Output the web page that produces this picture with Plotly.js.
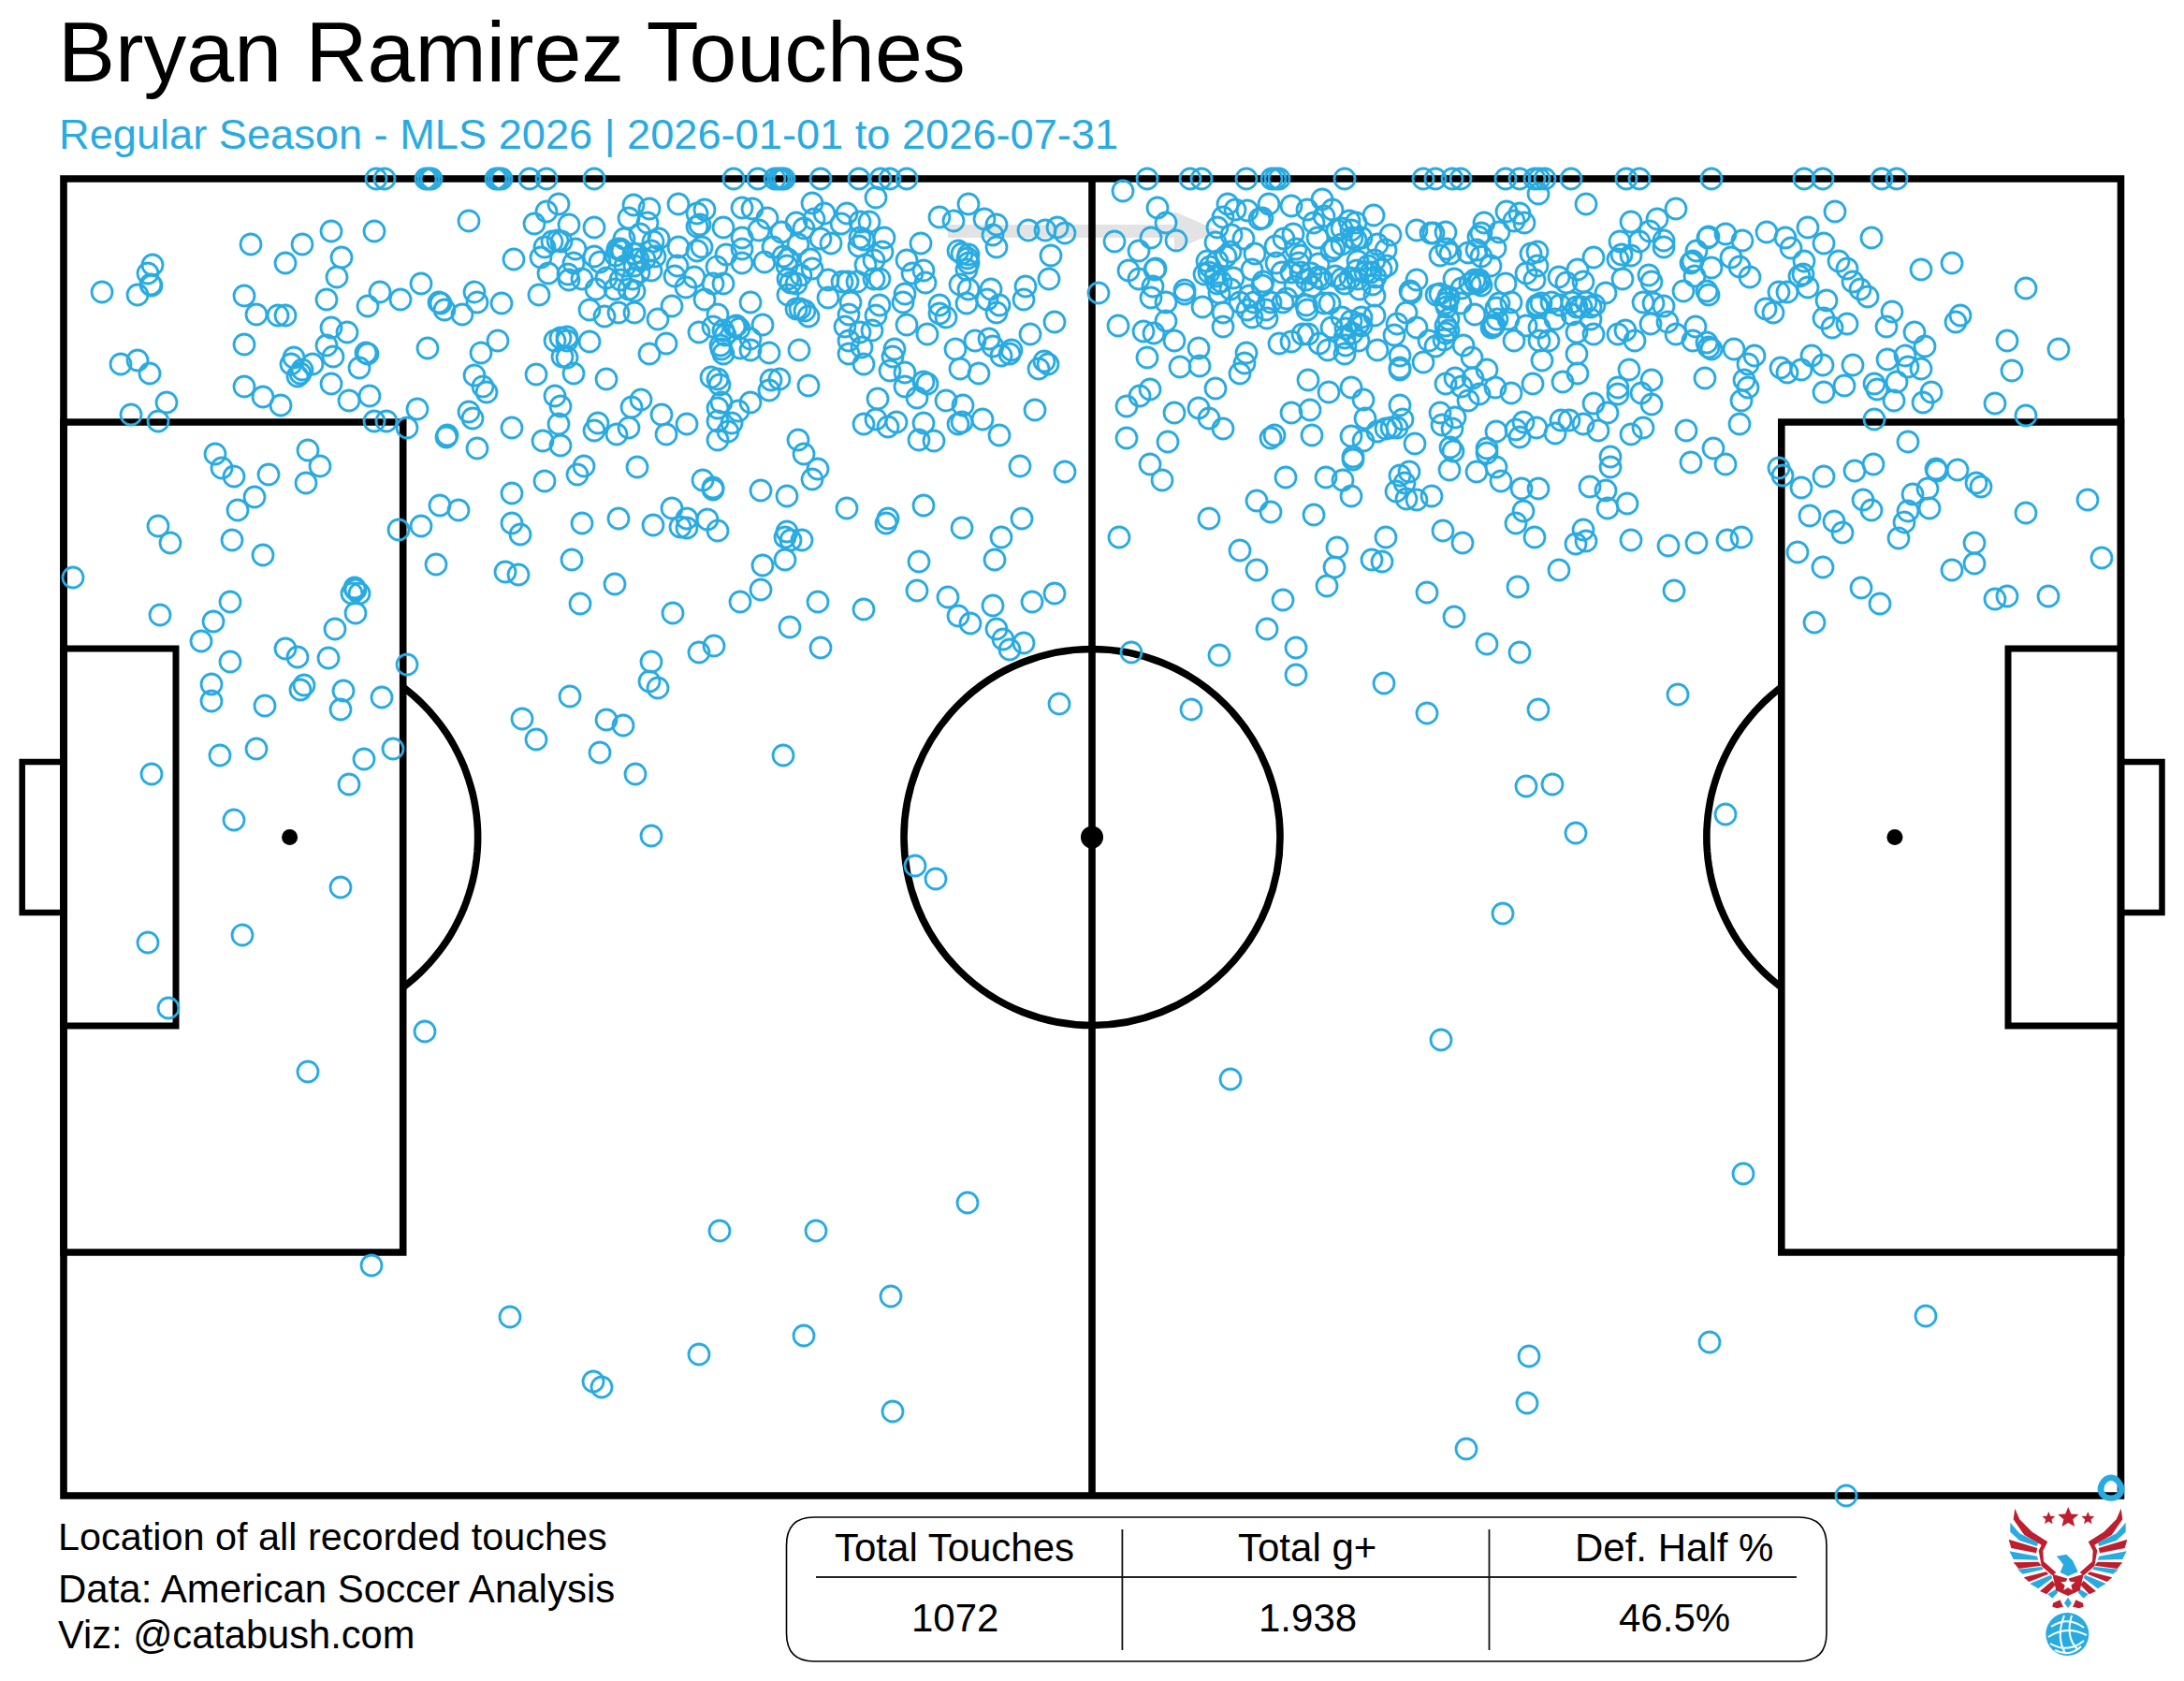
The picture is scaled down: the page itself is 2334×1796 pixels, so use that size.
<!DOCTYPE html>
<html><head><meta charset="utf-8">
<script src="https://cdn.plot.ly/plotly-3.0.1.min.js"></script>
<style>html,body{margin:0;padding:0;background:#fff}</style></head>
<body><div id="chart" style="width:2334px;height:1796px"></div>
<script>
const chartTitle = "Bryan Ramirez Touches";
const chartSubtitle = "Regular Season - MLS 2026 | 2026-01-01 to 2026-07-31";
const captionLines = ["Location of all recorded touches","Data: American Soccer Analysis","Viz: @catabush.com"];
const tableHeaders = ["Total Touches","Total g+","Def. Half %"];
const tableValues = ["1072","1.938","46.5%"];

// touches that sit on the touchline
const touchlineX = [402,411,455,458,461,530,533,536,566,584,635,784,810,828,832,835,838,877,918,941,951,969,1226,1272,1284,1332,1359,1363,1367,1437,1521,1534,1552,1561,1609,1624,1640,1645,1651,1679,1738,1752,1829,1928,1948,2011,2027];

const touchesLeftWing = [[109,311],[147,314],[163,282],[158,291],[161,303],[162,304],[268,260],[323,260],[305,280],[354,246],[365,274],[360,295],[400,246],[501,235],[261,315],[274,335],[297,336],[305,336],[349,319],[406,311],[393,326],[428,319],[450,302],[354,349],[371,354],[349,368],[356,380],[261,367],[391,376],[393,377],[384,392],[457,371],[314,381],[311,388],[334,388],[323,394],[321,398],[318,401],[129,388],[147,384],[160,398],[261,412],[281,423],[300,432],[354,409],[373,427],[395,422],[178,429],[140,442],[169,449],[400,449],[413,449],[446,436],[435,456],[478,464],[477,466],[510,478],[469,322],[471,323],[475,330],[494,335],[507,311],[510,322],[536,323],[576,314],[514,376],[532,363],[507,400],[516,412],[520,418],[501,439],[505,446],[547,456],[573,399],[580,470],[582,513],[547,526],[230,484],[237,499],[250,508],[287,506],[329,480],[342,497],[327,515],[272,530],[254,544],[470,539],[490,544],[450,561],[426,565],[169,561],[547,558],[556,570],[584,225],[597,217],[571,238],[549,276],[582,263],[578,274],[586,291],[590,257],[596,256],[593,363],[599,360],[593,422],[599,433],[597,452],[599,475],[601,380]];

const touchesLeftCentre = [[936,210],[725,217],[677,218],[694,222],[745,227],[753,223],[793,221],[804,222],[820,232],[868,216],[881,227],[870,233],[905,227],[899,238],[919,236],[929,236],[851,237],[859,243],[835,247],[811,245],[773,242],[745,241],[748,239],[635,242],[608,239],[672,232],[692,237],[684,249],[667,254],[704,254],[725,263],[793,253],[793,265],[793,280],[776,271],[750,263],[745,267],[766,284],[724,283],[721,294],[742,295],[733,306],[762,302],[773,302],[753,319],[802,322],[767,335],[762,348],[747,354],[785,348],[787,347],[815,346],[718,326],[703,340],[678,333],[661,333],[646,337],[630,330],[712,366],[694,377],[630,364],[606,359],[606,363],[606,381],[613,398],[648,404],[637,308],[657,308],[663,298],[676,297],[672,308],[678,310],[648,296],[622,297],[608,298],[607,292],[613,280],[615,265],[635,273],[641,279],[600,257],[665,267],[663,265],[677,270],[682,276],[689,276],[696,288],[696,267],[698,257],[817,279],[826,263],[837,273],[842,276],[853,260],[866,276],[868,286],[877,254],[888,259],[919,253],[923,255],[918,262],[945,253],[943,268],[934,277],[925,282],[885,298],[900,300],[906,300],[916,300],[934,297],[940,297],[842,297],[845,301],[851,302],[842,314],[856,293],[885,317],[909,322],[907,335],[903,348],[940,325],[936,336],[932,352],[919,354],[907,363],[921,370],[907,377],[923,388],[851,329],[855,329],[860,331],[864,337],[969,277],[975,291],[987,288],[989,301],[984,259],[967,313],[965,322],[969,346],[991,356],[956,372],[954,380],[951,395],[967,397],[967,412],[987,407],[991,409],[980,424],[938,425],[936,447],[923,452],[949,455],[958,450],[987,451],[982,469],[998,470],[1011,427],[1029,432],[1024,452],[1028,450],[1050,447],[1068,464],[1106,437],[1004,231],[1019,235],[1035,217],[1052,233],[1065,239],[1061,250],[1065,263],[1099,245],[1117,245],[1130,242],[1138,248],[1123,272],[1121,297],[1096,305],[1094,319],[1127,343],[1101,356],[1024,267],[1028,270],[1035,271],[1035,280],[1033,287],[1026,303],[1035,308],[1033,323],[1059,308],[1055,319],[1068,325],[1065,333],[1004,325],[1004,334],[1011,338],[1021,372],[1042,363],[1057,361],[1061,369],[1070,379],[1079,377],[1081,373],[1026,393],[1046,398],[1110,393],[1116,385],[1120,388],[1090,497],[1138,503],[1092,553],[1028,563],[1070,573],[987,539],[905,542],[949,553],[947,558],[841,529],[813,523],[868,511],[874,500],[859,484],[853,469],[864,411],[854,373],[822,376],[802,373],[802,361],[791,371],[773,377],[771,372],[760,402],[767,404],[769,410],[833,404],[824,405],[822,416],[802,429],[789,438],[771,429],[767,435],[767,449],[782,451],[778,460],[767,469],[707,442],[734,452],[712,463],[685,426],[675,434],[672,456],[659,463],[639,451],[635,459],[624,497],[617,506],[681,498],[751,512],[762,520],[762,522],[622,558],[661,553],[698,560],[718,542],[734,553],[727,562],[734,563],[756,554],[767,566],[841,567],[839,573],[845,576],[857,576]];

const touchesRightCentre = [[1174,312],[1200,203],[1191,257],[1195,347],[1644,206],[1695,217],[1237,221],[1246,237],[1230,253],[1217,267],[1257,256],[1312,217],[1320,223],[1333,224],[1307,231],[1301,242],[1299,258],[1316,250],[1329,254],[1341,270],[1346,233],[1349,232],[1356,217],[1380,219],[1397,223],[1413,212],[1415,230],[1424,223],[1404,237],[1382,249],[1372,254],[1363,262],[1408,253],[1434,243],[1442,235],[1449,237],[1468,229],[1429,245],[1426,264],[1434,260],[1445,253],[1449,255],[1486,250],[1472,260],[1481,266],[1385,265],[1390,272],[1409,281],[1364,280],[1338,287],[1315,268],[1310,273],[1301,278],[1290,278],[1235,286],[1234,287],[1206,288],[1217,297],[1232,305],[1230,317],[1246,322],[1266,309],[1266,313],[1285,327],[1246,342],[1222,353],[1233,355],[1255,363],[1226,381],[1281,371],[1261,391],[1282,390],[1287,292],[1292,290],[1301,302],[1303,312],[1315,308],[1307,333],[1307,348],[1332,376],[1330,387],[1325,398],[1299,414],[1335,315],[1350,300],[1370,290],[1390,290],[1396,298],[1412,297],[1384,305],[1402,305],[1427,294],[1434,297],[1451,278],[1469,277],[1482,283],[1451,297],[1465,290],[1453,308],[1467,303],[1469,315],[1333,330],[1338,338],[1354,339],[1358,322],[1371,322],[1396,325],[1397,330],[1415,323],[1421,323],[1469,336],[1455,338],[1444,342],[1434,338],[1438,350],[1423,349],[1367,366],[1380,364],[1392,356],[1398,356],[1410,366],[1419,373],[1438,368],[1437,377],[1452,363],[1472,373],[1496,379],[1496,392],[1496,394],[1521,386],[1398,405],[1420,418],[1444,413],[1457,426],[1459,446],[1496,432],[1499,447],[1472,460],[1481,457],[1487,456],[1493,456],[1444,465],[1457,470],[1446,487],[1446,490],[1512,473],[1380,440],[1400,437],[1402,464],[1358,467],[1362,464],[1281,435],[1292,446],[1307,457],[1255,440],[1229,415],[1218,422],[1204,433],[1204,467],[1248,471],[1229,495],[1242,512],[1374,509],[1417,509],[1435,512],[1444,529],[1343,534],[1358,546],[1404,549],[1292,553],[1196,573],[1496,507],[1506,503],[1501,515],[1492,524],[1503,532],[1514,533],[1530,529],[1514,245],[1529,248],[1532,248],[1545,247],[1539,272],[1546,265],[1550,270],[1569,269],[1578,266],[1580,252],[1583,248],[1586,237],[1602,247],[1598,264],[1583,273],[1593,283],[1610,225],[1624,227],[1618,235],[1629,237],[1636,270],[1643,268],[1643,283],[1631,291],[1640,298],[1666,295],[1674,301],[1686,287],[1692,300],[1703,274],[1716,312],[1734,297],[1731,257],[1743,236],[1752,257],[1743,272],[1733,271],[1729,276],[1762,293],[1765,300],[1756,322],[1767,323],[1764,345],[1729,356],[1737,352],[1747,363],[1685,377],[1686,398],[1670,407],[1638,409],[1615,419],[1598,413],[1609,302],[1554,297],[1578,302],[1571,302],[1581,300],[1562,307],[1535,314],[1539,313],[1545,323],[1507,310],[1508,312],[1514,298],[1503,333],[1493,345],[1490,357],[1514,349],[1527,363],[1534,369],[1545,347],[1545,355],[1543,362],[1561,323],[1576,335],[1599,328],[1602,323],[1615,322],[1596,348],[1594,349],[1618,363],[1631,347],[1643,325],[1643,327],[1667,325],[1662,340],[1685,327],[1690,327],[1704,325],[1700,340],[1685,354],[1703,356],[1645,349],[1645,363],[1655,363],[1648,384],[1564,368],[1573,381],[1589,394],[1555,403],[1545,409],[1562,412],[1574,403],[1581,420],[1569,427],[1539,440],[1555,445],[1541,453],[1552,457],[1550,477],[1553,481],[1549,501],[1578,503],[1599,460],[1589,478],[1589,483],[1599,498],[1604,513],[1626,521],[1644,521],[1620,458],[1628,450],[1624,466],[1642,456],[1662,462],[1668,448],[1677,448],[1692,452],[1708,459],[1703,430],[1718,440],[1729,413],[1729,420],[1741,394],[1754,419],[1765,405],[1765,431],[1756,456],[1743,463],[1721,487],[1721,498],[1699,519],[1716,523],[1739,537],[1718,542],[1628,545],[1620,558],[1542,566],[1692,565],[1763,246]];

const touchesDenseCluster = [[1444,245],[1455,253],[1423,267],[1388,280],[1380,290],[1437,302],[1443,296],[1459,290],[1476,287],[1462,283],[1450,288],[1470,295],[1401,291],[1409,295],[1318,296],[1325,322],[1340,322],[1353,330],[1349,304],[1375,318],[1293,284],[1299,294],[1305,300],[1581,298],[1583,304],[1576,298],[1548,316],[1546,327],[1548,318],[1600,340],[1597,346],[1612,340],[1680,322],[1695,322],[1700,327],[1680,335],[1658,322],[1647,323],[1455,347],[1445,355],[1452,345],[1437,360],[1548,352],[1548,340],[678,283],[683,290],[668,283],[660,265],[658,272],[700,273],[841,283],[1034,275],[775,357],[770,368],[790,350],[773,352]];

const touchesRightWing = [[1791,222],[1771,233],[1961,225],[1932,242],[1888,247],[1908,253],[1914,264],[1949,259],[2000,253],[1826,252],[1825,253],[1844,249],[1862,256],[1778,256],[1778,263],[1813,267],[1807,280],[1809,278],[1850,274],[1859,284],[1870,295],[1829,285],[1811,294],[1928,278],[1965,278],[1974,286],[1980,300],[1988,308],[1996,316],[2053,287],[2086,280],[2165,307],[1927,292],[1923,294],[1932,306],[1901,311],[1910,311],[1887,329],[1895,333],[1952,320],[1949,339],[1958,349],[1974,345],[2022,332],[2016,348],[2046,354],[2057,369],[2095,336],[2090,343],[2145,363],[2200,372],[2150,395],[2132,430],[2165,443],[2003,447],[2036,379],[2017,383],[2039,391],[2053,393],[1980,389],[1948,389],[1936,379],[1925,394],[1903,392],[1910,397],[1875,379],[1868,388],[1853,372],[1829,372],[1824,365],[1826,370],[1809,363],[1812,348],[1791,356],[1782,343],[1778,326],[1799,310],[1824,310],[1826,314],[1971,411],[1949,418],[2003,409],[2006,415],[2027,407],[2024,427],[2064,418],[2055,429],[1864,405],[1868,413],[1861,427],[1822,403],[1859,452],[1802,459],[1831,478],[1807,493],[1844,495],[1901,499],[1905,507],[1925,520],[1949,508],[1982,502],[2002,495],[2039,471],[2069,500],[2070,502],[2092,501],[2112,515],[2117,519],[2060,521],[2044,527],[2062,542],[1991,533],[2000,544],[1934,550],[1960,556],[2039,545],[2035,557],[2165,547],[2231,533],[1969,568]];

const touchesMidBand = [[182,579],[248,576],[281,592],[78,616],[466,602],[540,610],[554,613],[171,656],[246,642],[228,663],[215,684],[246,706],[226,730],[226,748],[283,753],[235,806],[274,799],[162,826],[250,875],[364,947],[305,692],[318,701],[351,702],[358,671],[380,654],[379,627],[376,633],[380,629],[384,633],[435,709],[321,736],[325,731],[367,737],[364,757],[408,744],[420,799],[389,810],[373,837],[558,767],[573,789],[611,597],[657,623],[620,644],[719,654],[815,603],[839,597],[813,629],[791,642],[874,642],[923,650],[844,669],[877,691],[763,689],[747,696],[696,706],[694,727],[703,734],[609,743],[648,768],[666,774],[641,803],[679,826],[837,806],[696,892],[982,599],[1063,597],[980,630],[1013,637],[1024,657],[1037,665],[1061,646],[1103,642],[1127,633],[1065,671],[1072,682],[1094,686],[1079,693],[1132,751],[978,924],[1000,938],[1325,587],[1343,608],[1429,584],[1426,605],[1418,625],[1466,597],[1477,599],[1481,573],[1563,579],[1371,640],[1354,671],[1385,691],[1385,720],[1303,699],[1209,696],[1273,757],[1525,632],[1554,658],[1589,687],[1624,696],[1622,626],[1666,608],[1684,580],[1695,577],[1640,573],[1743,576],[1479,729],[1525,761],[1644,757],[1631,839],[1659,837],[1684,889],[1783,582],[1813,579],[1846,576],[1861,573],[1789,630],[1793,741],[1844,869],[1921,589],[1948,605],[2029,574],[1989,627],[2009,644],[1939,664],[2110,579],[2110,601],[2086,608],[2132,639],[2145,636],[2189,636],[2246,595]];

const touchesDeepField = [[158,1006],[259,998],[180,1076],[454,1101],[329,1144],[397,1351],[545,1406],[634,1475],[643,1481],[747,1446],[769,1314],[872,1314],[1034,1284],[952,1384],[859,1426],[954,1507],[1315,1152],[1540,1110],[1606,975],[1863,1253],[1827,1433],[2058,1405],[1634,1448],[1632,1498],[1567,1547],[1973,1597],[2255,1588],[2256,1590],[2257,1589],[2256,1587],[2254,1590],[2258,1590]];

const allTouches = [...touchlineX.map(x=>[x,190]),...touchesLeftWing,...touchesLeftCentre,...touchesRightCentre,...touchesDenseCluster,...touchesRightWing,...touchesMidBand,...touchesDeepField];
const BLUE = "#29abe2", RED = "#be1e2d";

// pitch geometry (chart units)
const L=68,R=2266.5,T=190,B=1597,CX=1167,CY=893.5;
const line = {color:"#000",width:7.6};
function rect(x0,y0,x1,y1,w){return {type:"rect",x0,y0,x1,y1,xref:"x",yref:"y",line:{color:"#000",width:w||7.6},fillcolor:"rgba(0,0,0,0)",layer:"below"};}
function disc(cx,cy,r,fill,ln){return {type:"circle",x0:cx-r,x1:cx+r,y0:cy-r,y1:cy+r,xref:"x",yref:"y",fillcolor:fill,line:ln||{width:0},layer:"below"};}
function path(d,fill,ln,layer){return {type:"path",path:d,xref:"x",yref:"y",fillcolor:fill||"rgba(0,0,0,0)",line:ln||{width:0},layer:layer||"below"};}
function arc(cx,cy,r,a0,a1){let s="";for(let i=0;i<=48;i++){const a=(a0+(a1-a0)*i/48)*Math.PI/180;s+=(i?"L":"M")+(cx+r*Math.cos(a)).toFixed(1)+","+(cy+r*Math.sin(a)).toFixed(1);}return s;}
const arcAng = Math.acos((430.7-309.6)/201)*180/Math.PI;

const shapes = [
 path("M1013,239 L1255,239 L1255,225 L1303,246 L1255,266 L1255,253 L1013,253 Z","#e3e3e3"),
 rect(23.7,813,L,974,6.5), rect(R,813,2310.5,974,6.5),
 rect(L,450,430.7,1337), rect(1903.8,450,R,1337),
 rect(L,692,188,1095,7), rect(2146,692,R,1095,7),
 rect(L,T,R,B),
 {type:"line",x0:CX,x1:CX,y0:T,y1:B,xref:"x",yref:"y",line,layer:"below"},
 {type:"circle",x0:CX-201,x1:CX+201,y0:CY-201,y1:CY+201,xref:"x",yref:"y",line,layer:"below"},
 path(arc(309.6,CY,201,-arcAng,arcAng),null,line),
 path(arc(2024.9,CY,201,180-arcAng,180+arcAng),null,line),
 disc(309.6,CY,8.5,"#000"), disc(2024.9,CY,8.5,"#000"), disc(CX,CY,12,"#000"),
 // stat table frame
 path("M870,1620 L1922,1620 Q1952,1620 1952,1650 L1952,1744 Q1952,1774 1922,1774 L870,1774 Q840.5,1774 840.5,1744 L840.5,1650 Q840.5,1620 870,1620 Z",null,{color:"#000",width:1.6}),
 {type:"line",x0:872,x1:1920,y0:1684,y1:1684,xref:"x",yref:"y",line:{color:"#222",width:2},layer:"below"},
 {type:"line",x0:1199.4,x1:1199.4,y0:1633,y1:1762,xref:"x",yref:"y",line:{color:"#111",width:1.8},layer:"below"},
 {type:"line",x0:1591.5,x1:1591.5,y0:1633,y1:1762,xref:"x",yref:"y",line:{color:"#111",width:1.8},layer:"below"}
];

// logo, in crop units (u,v): X=1900+u/3, Y=1540+v/3, mirrored about u=930
function lp(pts,fill,mirror){const d=pts.map((p,i)=>(i?"L":"M")+(1900+(mirror?1860-p[0]:p[0])/3).toFixed(1)+","+(1539+p[1]/3).toFixed(1)).join(" ")+" Z";shapes.push(path(d,fill,null,"above"));}
const wings=[
 [[[760,215],[775,250],[815,290],[865,322],[850,350],[852,385],[892,420],[880,430],[845,400],[836,350],[845,332],[790,300],[755,250]],RED],
 [[[745,260],[775,295],[835,325],[830,336],[775,318],[745,290]],BLUE],
 [[[740,314],[832,342],[828,358],[748,342]],RED],
 [[[742,352],[830,368],[835,380],[755,378]],BLUE],
 [[[755,388],[835,386],[845,398],[772,408]],RED],
 [[[768,410],[845,402],[852,410],[785,425]],BLUE],
 [[[788,436],[860,418],[868,425],[805,450]],RED],
 [[[808,456],[875,428],[880,438],[835,472]],BLUE],
 [[[840,480],[880,446],[890,460],[862,490]],RED],
 [[[865,490],[895,472],[897,485],[880,503]],BLUE],
 [[[882,518],[905,508],[910,520],[915,530],[895,535],[880,530]],RED]
];
wings.forEach(w=>{lp(w[0],w[1],false);lp(w[0],w[1],true);});
lp([[880,425],[930,440],[980,425],[968,478],[930,495],[892,478]],RED,false);
lp([[893,368],[925,362],[945,382],[962,418],[930,432],[905,420],[915,395],[905,382]],BLUE,false);
lp([[930,500],[942,518],[930,534],[918,518]],BLUE,false);
function star(cx,cy,r,fill){const p=[];for(let i=0;i<10;i++){const a=-Math.PI/2+i*Math.PI/5,q=i%2?r*0.45:r;p.push([cx+q*Math.cos(a),cy+q*Math.sin(a)]);}lp(p,fill,false);}
star(931,245,35,RED);star(868,247,22,RED);star(994,247,22,RED);star(930,458,24,"#fff");
shapes.push(disc(2209.3,1745,23,BLUE));
shapes[shapes.length-1].layer="above";
["M2192,1737 Q2210,1725 2227,1738","M2189,1748 Q2208,1735 2230,1746","M2206,1725 Q2197,1748 2207,1765","M2214,1725 Q2207,1748 2220,1761","M2191,1755 Q2210,1766 2227,1752","M2196,1762 Q2212,1770 2224,1758"].forEach(d=>shapes.push(path(d,null,{color:"#fff",width:2},"above")));

const ann=(text,x,y,size,color,anchor)=>({text,x,y,xref:"x",yref:"y",xanchor:anchor||"left",yanchor:"middle",showarrow:false,font:{family:"Liberation Sans, Arial, sans-serif",size,color:color||"#000"}});
const annotations=[
 ann(chartTitle,59.5,54,91.5),
 ann(chartSubtitle,60.5,142,45.2,BLUE),
 ann(captionLines[0],59.5,1641,41.4),
 ann(captionLines[1],59.5,1696,42),
 ann(captionLines[2],59.5,1745,41.6),
];
const colX=[1020,1397,1789];
tableHeaders.forEach((t,i)=>annotations.push(ann(t,colX[i],1652.5,42,"#000","center")));
tableValues.forEach((t,i)=>annotations.push(ann(t,colX[i],1727.5,42,"#000","center")));

Plotly.newPlot("chart",[{
  type:"scatter",mode:"markers",cliponaxis:false,hoverinfo:"skip",
  x:allTouches.map(p=>p[0]),y:allTouches.map(p=>p[1]),
  marker:{symbol:"circle-open",size:22,color:BLUE,line:{color:BLUE,width:2.8}}
}],{
  width:2334,height:1796,margin:{l:0,r:0,t:0,b:0},paper_bgcolor:"#fff",plot_bgcolor:"#fff",showlegend:false,
  xaxis:{range:[0,2334],visible:false,fixedrange:true},
  yaxis:{range:[1795,-1],visible:false,fixedrange:true},
  shapes,annotations
},{staticPlot:true,displayModeBar:false});
</script></body></html>
